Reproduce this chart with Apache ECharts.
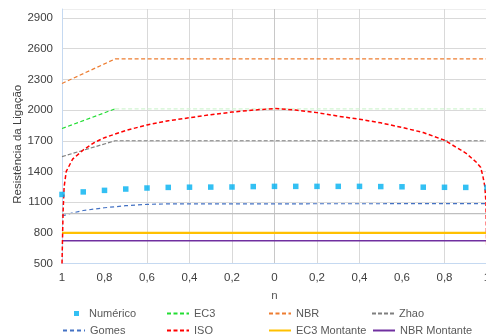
<!DOCTYPE html>
<html>
<head>
<meta charset="utf-8">
<script src="https://cdn.jsdelivr.net/npm/echarts@6/dist/echarts.min.js"></script>
<style>
html,body{margin:0;padding:0;background:#fff;}
#chart{width:486px;height:336px;}
</style>
</head>
<body>
<div id="chart"></div>
<script>
// ---- data (x = n, y = Resistência da Ligação) ----
const nNum = [-1,-0.9,-0.8,-0.7,-0.6,-0.5,-0.4,-0.3,-0.2,-0.1,0,0.1,0.2,0.3,0.4,0.5,0.6,0.7,0.8,0.9,1];
const numerico = [1175,1200,1215,1228,1238,1244,1246,1247,1248,1252,1254,1254,1254,1254,1254,1252,1250,1246,1245,1244,1244];

const nEC3 = [-1,-0.75];
const ec3 = [1820,2012];
const nEC3flat = [-0.75,1];
const ec3flat = [2012,2012];

const nNBR = [-1,-0.75,1];
const nbr = [2260,2500,2500];

const nZhao = [-1,-0.75,1];
const zhao = [1545,1700,1700];

const nGomes = [-1,-0.95,-0.9,-0.8,-0.7,-0.6,-0.5,1];
const gomes = [965,995,1018,1045,1065,1078,1083,1085];

const nISO = [-1,-0.995,-0.99,-0.98,-0.97,-0.95,-0.9,-0.85,-0.8,-0.7,-0.6,-0.5,-0.4,-0.3,-0.2,-0.1,0,0.1,0.2,0.3,0.4,0.5,0.6,0.7,0.8,0.9,0.95,0.97,0.98,0.99,0.995,1];
const iso = [500,1000,1250,1400,1440,1520,1610,1680,1730,1800,1855,1895,1925,1955,1980,2000,2015,2000,1975,1940,1910,1875,1830,1780,1705,1580,1490,1440,1360,1250,1100,500];

const nRef = [-1,1];
const refGray = [987,987];

const nMont = [-1,1];
const ec3Montante = [800,800];
const nbrMontante = [722,722];

const yTicks = {min:500, max:2988, interval:300};
const xTicks = {min:-1, max:1, interval:0.2};

function pairs(xs, ys){ return xs.map((x,i)=>[x,ys[i]]); }

const FONT = 'Liberation Sans, Arial, sans-serif';

function lineSeries(name, xs, ys, color, width, dash, extra){
  return Object.assign({
    name: name, type: 'line', data: pairs(xs, ys), symbol: 'none', showSymbol: false,
    lineStyle: {color: color, width: width, type: dash},
    itemStyle: {color: color},
    animation: false
  }, extra || {});
}

const series = [
  lineSeries('Gomes', nGomes, gomes, '#4472C4', 1.2, [4,3]),
  lineSeries('ref', nRef, refGray, '#bfbfbf', 1.3, 'solid'),
  lineSeries('EC3 Montante', nMont, ec3Montante, '#FFC000', 2.2, 'solid'),
  lineSeries('NBR Montante', nMont, nbrMontante, '#7030A0', 1.4, 'solid'),
  lineSeries('Zhao', nZhao, zhao, '#7F7F7F', 1.2, [4,2]),
  lineSeries('EC3', nEC3, ec3, '#22DD33', 1.2, [4,2.5]),
  lineSeries('EC3cont', nEC3flat, ec3flat, '#d2f5d2', 1.2, [4,2.5]),
  lineSeries('NBR', nNBR, nbr, '#ED7D31', 1.2, [4,2.5]),
  lineSeries('ISO', nISO, iso, '#FF0000', 1.5, [4,2.5]),
  {
    name: 'Numérico', type: 'scatter', data: pairs(nNum, numerico),
    symbol: 'rect', symbolSize: 5.5, itemStyle: {color: '#00B0F0'}, animation: false, z: 5
  }
];

function leg(name, left, top, opts){
  return Object.assign({
    data: [name], left: left, top: top, padding: 0,
    itemWidth: 22, itemHeight: 10, selectedMode: false,
    itemStyle: {opacity: 0},
    textStyle: {fontFamily: FONT, fontSize: 11, color: '#595959'}
  }, opts || {});
}

const legends = [
  leg('Numérico', 74, 308, {itemWidth: 5, itemHeight: 5, icon: 'rect', itemStyle: {color: '#00B0F0'},
      textStyle: {fontFamily: FONT, fontSize: 11, color: '#595959', padding: [0,0,0,5]}}),
  leg('EC3', 166, 308),
  leg('NBR', 268, 308),
  leg('Zhao', 371, 308),
  leg('Gomes', 62, 325),
  leg('ISO', 166, 325),
  leg('EC3 Montante', 268, 325),
  leg('NBR Montante', 372, 325)
];

const xSplitColors = ['rgba(0,0,0,0)','rgba(0,0,0,0)','#d9d9d9','#d9d9d9','#d9d9d9','#c8c8c8','#d9d9d9','#d9d9d9','rgba(0,0,0,0)','#d9d9d9','rgba(0,0,0,0)'];
const ySplitColors = ['rgba(0,0,0,0)','#d9d9d9','#d9d9d9','#d9d9d9','#d9d9d9','#d9d9d9','#d9d9d9','#d9d9d9','#d9d9d9','#eeeeee'];

const chart = echarts.init(document.getElementById('chart'), null, {renderer: 'canvas'});
chart.setOption({
  backgroundColor: '#ffffff',
  animation: false,
  grid: {left: 62, top: 9, width: 425, height: 254.5, containLabel: false, outerBoundsMode: 'none'},
  legend: legends,
  xAxis: {
    type: 'value', min: xTicks.min, max: xTicks.max, interval: xTicks.interval,
    name: 'n', nameLocation: 'middle', nameGap: 26, nameMoveOverlap: false,
    nameTextStyle: {fontFamily: FONT, fontSize: 11.5, color: '#595959'},
    axisLine: {show: true, onZero: false, lineStyle: {color: '#c5d9f1', width: 1}},
    axisTick: {show: false},
    axisLabel: {
      margin: 8, fontFamily: FONT, fontSize: 11.5, color: '#404040', hideOverlap: false,
      formatter: function(v){ const a = Math.abs(Math.round(v*10)/10); return String(a).replace('.', ','); }
    },
    splitLine: {show: true, lineStyle: {color: xSplitColors, width: 1}}
  },
  yAxis: {
    type: 'value', min: yTicks.min, max: yTicks.max, interval: yTicks.interval,
    name: 'Resistência da Ligação', nameLocation: 'middle', nameGap: 38, nameRotate: 90,
    nameMoveOverlap: false,
    nameTextStyle: {fontFamily: FONT, fontSize: 11.5, color: '#404040', padding: [0, 16, 0, 0]},
    axisLine: {show: true, onZero: false, lineStyle: {color: '#c5d9f1', width: 1}},
    axisTick: {show: false},
    axisLabel: {
      margin: 9, fontFamily: FONT, fontSize: 11.5, color: '#404040', showMaxLabel: false,
      formatter: function(v){ return (v - yTicks.min) % yTicks.interval === 0 ? String(v) : ''; }
    },
    splitLine: {show: true, lineStyle: {color: ySplitColors, width: 1}}
  },
  series: series
});
</script>
</body>
</html>
